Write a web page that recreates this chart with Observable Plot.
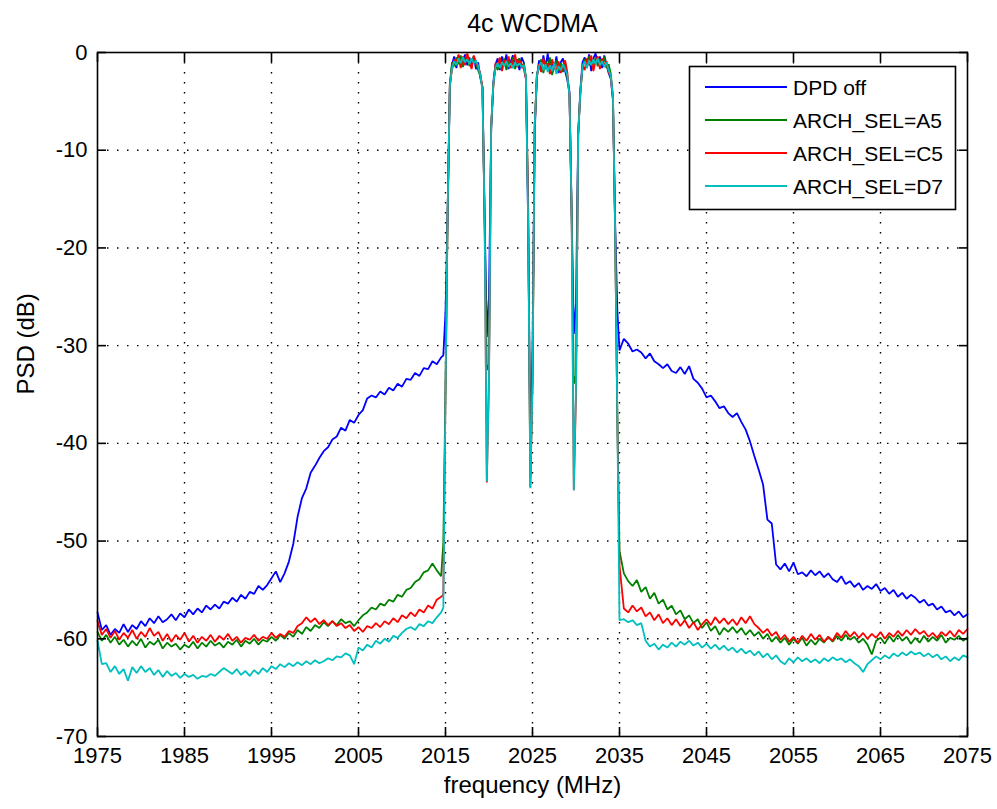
<!DOCTYPE html>
<html>
<head>
<meta charset="utf-8">
<script src="https://cdn.jsdelivr.net/npm/d3@7"></script>
<script src="https://cdn.jsdelivr.net/npm/@observablehq/plot@0.6"></script>
<style>
  html, body { margin: 0; padding: 0; background: #fff; }
  #chart { width: 997px; height: 809px; }
</style>
</head>
<body>
<div id="chart"></div>
<script>
// ---------- categories / ticks ----------
const seriesNames = ["DPD off", "ARCH_SEL=A5", "ARCH_SEL=C5", "ARCH_SEL=D7"];
const seriesColors = ["#0000ff", "#008000", "#ff0000", "#00bfbf"];
const xTicks = [1975, 1985, 1995, 2005, 2015, 2025, 2035, 2045, 2055, 2065, 2075];
const yTicks = [-70, -60, -50, -40, -30, -20, -10, 0];

// ---------- frequency grid (MHz) ----------
const freqLeft = [
  1975,1975.5,1976,1976.5,1977,1977.5,1978,1978.5,1979,1979.5,
  1980,1980.5,1981,1981.5,1982,1982.5,1983,1983.5,1984,1984.5,
  1985,1985.5,1986,1986.5,1987,1987.5,1988,1988.5,1989,1989.5,
  1990,1990.5,1991,1991.5,1992,1992.5,1993,1993.5,1994,1994.5,
  1995,1995.5,1996,1996.5,1997,1997.5,1998,1998.5,1999,1999.5,
  2000,2000.5,2001,2001.5,2002,2002.5,2003,2003.5,2004,2004.5,
  2005,2005.5,2006,2006.5,2007,2007.5,2008,2008.5,2009,2009.5,
  2010,2010.5,2011,2011.5,2012,2012.5,2013,2013.5,2014,2014.5
];
const freqBand = [
  2014.75,2015,2015.25,2015.5,2015.75,2016,2016.25,2016.5,2016.75,2017,
  2017.25,2017.5,2017.75,2018,2018.25,2018.5,2018.75,2019,2019.25,2019.5,
  2019.75,2020,2020.25,2020.5,2020.75,2021,2021.25,2021.5,2021.75,2022,
  2022.25,2022.5,2022.75,2023,2023.25,2023.5,2023.75,2024,2024.25,2024.5,
  2024.75,2025,2025.25,2025.5,2025.75,2026,2026.25,2026.5,2026.75,2027,
  2027.25,2027.5,2027.75,2028,2028.25,2028.5,2028.75,2029,2029.25,2029.5,
  2029.75,2030,2030.25,2030.5,2030.75,2031,2031.25,2031.5,2031.75,2032,
  2032.25,2032.5,2032.75,2033,2033.25,2033.5,2033.75,2034,2034.25,2034.5,
  2034.75,2035
];
const freqRight = [
  2035.5,2036,2036.5,2037,2037.5,2038,2038.5,2039,2039.5,2040,
  2040.5,2041,2041.5,2042,2042.5,2043,2043.5,2044,2044.5,2045,
  2045.5,2046,2046.5,2047,2047.5,2048,2048.5,2049,2049.5,2050,
  2050.5,2051,2051.5,2052,2052.5,2053,2053.5,2054,2054.5,2055,
  2055.5,2056,2056.5,2057,2057.5,2058,2058.5,2059,2059.5,2060,
  2060.5,2061,2061.5,2062,2062.5,2063,2063.5,2064,2064.5,2065,
  2065.5,2066,2066.5,2067,2067.5,2068,2068.5,2069,2069.5,2070,
  2070.5,2071,2071.5,2072,2072.5,2073,2073.5,2074,2074.5,2075
];

// ---------- DPD off (blue) ----------
const dpdOffLeft = [
  -57.3,-59.1,-58.6,-59.6,-59.0,-59.4,-58.5,-59.3,-58.6,-59.0,
  -58.2,-58.7,-57.9,-58.4,-57.7,-58.3,-58.0,-57.5,-58.1,-57.4,
  -57.8,-57.0,-57.5,-56.9,-57.3,-56.6,-57.0,-56.5,-56.9,-56.2,
  -56.4,-55.8,-56.2,-55.5,-55.9,-55.2,-55.4,-54.6,-55.0,-54.5,
  -53.8,-53.1,-54.2,-53.3,-52.1,-50.3,-47.5,-45.6,-44.6,-43.0,
  -42.3,-41.5,-40.8,-40.4,-39.6,-39.3,-38.4,-38.7,-37.6,-37.9,
  -37.1,-36.6,-35.4,-35.1,-35.3,-34.7,-35.0,-34.3,-34.6,-33.9,
  -34.2,-33.4,-33.5,-32.8,-33.1,-32.3,-32.4,-31.6,-31.9,-31.2
];
const dpdOffBand = [
  -31.0,-26.6,-16.2,-3.6,-1.2,-0.4,-1.6,-0.3,-1.4,-0.8,
  -0.2,-1.3,-0.5,-1.5,-0.4,-1.7,-1.0,-2.6,-3.5,-17.0,
  -29.1,-24.9,-7.9,-3.0,-1.2,-0.6,-1.8,-0.4,-1.2,-0.2,
  -1.7,-0.9,-0.3,-1.4,-0.7,-1.8,-0.5,-1.0,-2.8,-17.6,
  -40.0,-30.5,-8.3,-2.6,-0.8,-1.9,-0.3,-1.5,-0.1,-2.0,
  -0.9,-1.7,-0.4,-2.1,-1.0,-0.6,-1.9,-2.8,-4.0,-16.3,
  -28.8,-25.7,-8.5,-3.8,-1.0,-0.5,-1.4,-0.2,-1.9,-0.6,
  -0.1,-1.1,-0.4,-1.6,-0.3,-1.2,-2.1,-2.7,-4.9,-17.5,
  -26.4,-30.5
];
const dpdOffRight = [
  -29.3,-29.8,-30.6,-30.4,-30.7,-31.3,-30.8,-31.6,-31.9,-32.3,
  -31.9,-32.6,-32.8,-32.2,-32.9,-32.1,-33.4,-33.8,-34.4,-35.3,
  -35.1,-35.7,-36.4,-36.2,-36.9,-37.3,-36.9,-37.8,-38.6,-39.8,
  -41.3,-42.7,-44.2,-47.8,-48.2,-52.4,-52.9,-52.3,-53.1,-52.2,
  -53.4,-53.2,-53.6,-53.0,-53.5,-53.1,-53.7,-53.3,-53.9,-54.2,
  -53.6,-54.4,-54.1,-54.7,-54.3,-55.0,-54.6,-54.9,-54.4,-55.1,
  -54.8,-55.4,-55.0,-55.7,-55.3,-55.9,-55.5,-55.8,-56.3,-56.0,
  -56.6,-56.4,-57.0,-56.7,-57.3,-57.1,-57.6,-57.2,-57.8,-57.5
];

// ---------- ARCH_SEL=A5 (green) ----------
const a5Left = [
  -59.3,-60.2,-59.6,-60.4,-59.8,-60.6,-60.1,-60.8,-60.2,-60.7,
  -60.0,-60.9,-60.3,-60.6,-60.1,-61.0,-60.4,-60.8,-60.5,-61.1,
  -60.6,-60.9,-60.3,-61.0,-60.4,-60.8,-60.2,-60.7,-60.4,-60.9,
  -60.3,-60.6,-60.1,-60.8,-60.2,-60.5,-60.0,-60.6,-60.1,-60.3,
  -59.8,-60.2,-59.6,-60.0,-59.4,-59.8,-59.1,-59.5,-58.8,-59.2,
  -58.6,-58.9,-58.3,-58.7,-58.2,-58.6,-58.0,-58.4,-58.2,-58.7,
  -58.1,-57.6,-57.3,-56.8,-57.0,-56.4,-56.6,-56.0,-56.2,-55.5,
  -55.7,-55.0,-54.8,-54.2,-53.9,-53.2,-53.0,-52.3,-53.0,-53.6
];
const a5Band = [
  -50.2,-34.3,-16.0,-3.2,-1.0,-1.4,-0.5,-1.2,-0.3,-1.5,
  -0.6,-0.2,-1.4,-0.9,-0.4,-1.2,-1.8,-2.4,-3.6,-17.2,
  -32.5,-31.9,-7.7,-3.3,-1.3,-1.8,-0.7,-1.5,-0.6,-1.8,
  -0.8,-1.4,-0.5,-1.7,-0.9,-0.6,-1.6,-1.1,-2.5,-16.0,
  -43.5,-33.5,-7.8,-2.2,-1.6,-0.7,-2.1,-0.9,-1.6,-0.5,
  -2.3,-1.4,-0.8,-1.9,-1.1,-2.0,-1.0,-2.5,-4.3,-16.6,
  -33.9,-33.0,-8.3,-4.0,-1.6,-0.7,-1.2,-0.4,-1.0,-1.6,
  -0.5,-1.4,-0.7,-1.1,-0.4,-1.6,-1.2,-2.2,-4.5,-18.1,
  -37.0,-51.0
];
const a5Right = [
  -53.3,-54.1,-54.6,-54.0,-55.2,-54.7,-55.9,-55.3,-56.4,-56.0,
  -57.0,-56.6,-57.5,-57.1,-58.0,-57.6,-58.4,-58.0,-58.9,-58.3,
  -59.2,-58.7,-59.6,-58.9,-59.3,-58.8,-59.4,-58.9,-59.6,-59.1,
  -59.7,-59.3,-60.0,-59.5,-60.3,-59.8,-60.4,-59.9,-60.6,-60.0,
  -60.5,-59.9,-60.7,-60.1,-60.6,-60.0,-60.4,-59.8,-60.3,-59.7,
  -60.2,-59.6,-60.1,-59.8,-60.4,-60.0,-60.6,-61.6,-60.2,-59.9,
  -60.5,-59.7,-60.3,-59.6,-60.2,-59.8,-60.5,-59.9,-60.4,-59.7,
  -60.3,-59.8,-60.2,-59.6,-60.4,-59.9,-60.1,-59.7,-60.2,-59.9
];

// ---------- ARCH_SEL=C5 (red) ----------
const c5Left = [
  -58.2,-59.6,-59.0,-59.9,-59.2,-60.1,-59.4,-59.9,-59.1,-60.0,
  -59.3,-59.8,-58.9,-59.7,-59.3,-60.2,-59.5,-60.3,-59.6,-60.1,
  -59.4,-60.3,-59.7,-60.4,-59.8,-60.2,-59.6,-60.3,-59.7,-60.1,
  -59.5,-60.2,-59.8,-60.4,-59.9,-60.1,-59.6,-60.2,-59.8,-60.0,
  -59.4,-59.9,-59.5,-59.8,-59.2,-59.4,-58.7,-58.4,-57.8,-58.3,
  -57.9,-58.5,-58.1,-58.6,-58.2,-58.7,-58.4,-58.9,-58.6,-59.2,
  -58.8,-59.3,-58.7,-58.9,-58.4,-58.8,-58.2,-58.5,-57.9,-58.3,
  -57.6,-57.9,-57.3,-57.7,-57.0,-57.3,-56.6,-56.9,-56.0,-55.7
];
const c5Band = [
  -55.5,-34.8,-16.3,-3.1,-1.8,-0.7,-1.1,-0.2,-1.6,-0.4,
  -1.3,-0.1,-0.9,-1.7,-0.3,-1.0,-1.5,-2.1,-3.7,-17.6,
  -44.0,-33.2,-7.5,-3.4,-1.1,-1.3,-0.5,-1.9,-0.8,-1.2,
  -0.4,-1.6,-1.0,-0.2,-1.5,-0.8,-1.2,-1.7,-2.7,-15.5,
  -44.5,-33.9,-7.6,-2.5,-1.2,-2.0,-0.6,-1.7,-1.1,-2.2,
  -0.7,-1.5,-1.9,-0.9,-2.1,-1.4,-0.8,-2.0,-4.4,-16.7,
  -44.8,-35.0,-8.4,-4.2,-1.3,-1.8,-0.6,-1.3,-0.3,-1.9,
  -0.9,-0.4,-1.7,-0.6,-1.4,-0.9,-2.0,-2.5,-4.8,-18.4,
  -37.5,-52.5
];
const c5Right = [
  -56.9,-57.3,-56.6,-57.2,-56.8,-57.7,-57.3,-58.1,-57.5,-58.4,
  -57.9,-58.6,-58.0,-58.7,-58.1,-58.9,-58.3,-59.1,-58.5,-58.0,
  -58.6,-57.8,-58.4,-57.9,-58.5,-58.0,-58.6,-57.8,-58.4,-57.7,
  -58.5,-58.9,-59.4,-59.0,-59.7,-59.3,-60.1,-59.6,-60.3,-59.8,
  -60.4,-59.7,-60.2,-59.5,-60.1,-59.6,-60.3,-59.8,-60.2,-59.4,
  -59.9,-59.2,-59.8,-59.3,-59.9,-59.4,-60.0,-59.5,-59.9,-59.3,
  -60.0,-59.4,-59.8,-59.2,-59.7,-59.1,-59.6,-59.0,-59.5,-59.2,
  -59.8,-59.4,-59.9,-59.3,-59.7,-59.2,-59.8,-59.1,-59.5,-59.0
];

// ---------- ARCH_SEL=D7 (cyan) ----------
const d7Left = [
  -60.2,-62.6,-62.5,-63.4,-62.8,-63.6,-63.1,-64.3,-62.9,-63.5,
  -62.8,-63.4,-63.0,-63.7,-63.2,-63.9,-63.3,-63.8,-63.5,-64.0,
  -63.6,-63.9,-63.7,-64.1,-63.8,-63.9,-63.6,-63.8,-63.4,-63.0,
  -63.3,-63.6,-63.1,-63.7,-63.3,-63.8,-63.2,-63.6,-63.0,-63.4,
  -62.8,-63.1,-62.6,-62.9,-62.5,-62.8,-62.4,-62.7,-62.3,-62.6,
  -62.2,-62.5,-62.3,-62.0,-62.2,-61.8,-61.9,-61.5,-61.7,-62.6,
  -60.9,-61.2,-60.6,-60.9,-60.2,-60.5,-60.0,-60.3,-59.7,-59.9,
  -59.4,-59.0,-58.8,-59.1,-58.5,-58.7,-58.2,-58.4,-57.8,-57.3
];
const d7Band = [
  -56.8,-34.6,-16.0,-3.4,-1.6,-0.9,-1.3,-0.6,-1.1,-0.5,
  -1.0,-0.7,-1.2,-0.6,-1.1,-0.8,-1.4,-2.3,-3.9,-17.5,
  -43.9,-33.2,-7.6,-3.2,-1.5,-1.1,-1.6,-1.0,-1.4,-0.9,
  -1.5,-1.1,-1.6,-1.0,-1.4,-1.1,-1.5,-1.3,-2.6,-17.4,
  -44.6,-33.8,-7.5,-2.4,-1.4,-1.0,-1.8,-1.2,-2.0,-1.3,
  -1.9,-1.1,-2.2,-1.4,-1.8,-1.2,-1.7,-2.3,-4.4,-16.5,
  -44.8,-34.0,-8.5,-4.1,-1.4,-0.9,-1.6,-0.8,-1.3,-0.7,
  -1.2,-0.6,-1.3,-0.9,-1.5,-1.0,-1.8,-2.4,-4.6,-18.4,
  -37.5,-58.1
];
const d7Right = [
  -58.0,-58.3,-58.1,-58.6,-58.4,-60.2,-60.8,-60.5,-61.1,-60.6,
  -60.9,-60.4,-60.8,-60.3,-60.6,-60.2,-60.7,-60.4,-60.9,-60.5,
  -61.0,-60.6,-61.1,-60.7,-61.2,-60.9,-61.4,-61.0,-61.5,-61.2,
  -61.7,-61.3,-61.9,-61.5,-62.1,-61.7,-62.3,-62.6,-62.0,-62.4,
  -61.9,-62.3,-62.0,-62.4,-62.1,-62.5,-62.0,-62.3,-61.9,-62.2,
  -62.0,-62.4,-62.1,-62.5,-62.8,-63.4,-62.6,-62.2,-61.8,-62.1,
  -61.7,-62.0,-61.5,-61.8,-61.4,-61.7,-61.3,-61.6,-61.4,-61.8,
  -61.5,-61.9,-61.6,-62.1,-61.8,-62.3,-61.9,-62.2,-61.7,-61.9
];

// ---------- build tidy table ----------
const freq = [...freqLeft, ...freqBand, ...freqRight];
const seriesValues = [
  [...dpdOffLeft, ...dpdOffBand, ...dpdOffRight],
  [...a5Left, ...a5Band, ...a5Right],
  [...c5Left, ...c5Band, ...c5Right],
  [...d7Left, ...d7Band, ...d7Right]
];
const table = seriesNames.flatMap((name, s) =>
  freq.map((f, i) => ({f, psd: seriesValues[s][i], name}))
);

const FONT = "'Liberation Sans', Arial, Helvetica, sans-serif";
const xInner = xTicks.slice(1, -1);
const yInner = yTicks.slice(1, -1);
const dots = "1.5,8.5";

const chart = Plot.plot({
  width: 997,
  height: 809,
  marginLeft: 97,
  marginRight: 30,
  marginTop: 52,
  marginBottom: 73,
  style: {fontFamily: FONT, fontSize: "22px", background: "#fff", color: "#000"},
  x: {domain: [1975, 2075], label: null},
  y: {domain: [-70, 0], label: null},
  color: {domain: seriesNames, range: seriesColors},
  marks: [
    // dotted grid
    Plot.ruleX(xInner, {stroke: "#000", strokeWidth: 1.4, strokeDasharray: dots}),
    Plot.ruleY(yInner, {stroke: "#000", strokeWidth: 1.4, strokeDasharray: dots}),
    // data
    Plot.line(table, {x: "f", y: "psd", z: "name", stroke: "name", strokeWidth: 1.8, strokeLinejoin: "miter"}),
    // box
    Plot.frame({stroke: "#000", strokeWidth: 1.6}),
    // inward ticks on all four sides
    Plot.axisX({ticks: xTicks, anchor: "bottom", tickSize: -9, tickFormat: () => "", label: null, strokeWidth: 1.6}),
    Plot.axisX({ticks: xTicks, anchor: "top", tickSize: -9, tickFormat: () => "", label: null, strokeWidth: 1.6}),
    Plot.axisY({ticks: yTicks, anchor: "left", tickSize: -9, tickFormat: () => "", label: null, strokeWidth: 1.6}),
    Plot.axisY({ticks: yTicks, anchor: "right", tickSize: -9, tickFormat: () => "", label: null, strokeWidth: 1.6}),
    // tick labels
    Plot.axisX({ticks: xTicks, anchor: "bottom", tickSize: 0, tickPadding: 11, tickFormat: d => String(d), label: null, fontSize: 22}),
    Plot.axisY({ticks: yTicks, anchor: "left", tickSize: 0, tickPadding: 10, tickFormat: d => String(d), label: null, fontSize: 22}),
    // title and axis labels
    Plot.text(["4c WCDMA"], {frameAnchor: "top", dy: -21, lineAnchor: "bottom", fontSize: 25, fill: "#000"}),
    Plot.text(["frequency (MHz)"], {frameAnchor: "bottom", dy: 56, lineAnchor: "bottom", fontSize: 24, fill: "#000"}),
    Plot.text(["PSD (dB)"], {frameAnchor: "left", dx: -64, rotate: -90, lineAnchor: "bottom", fontSize: 24, fill: "#000"})
  ]
});

document.getElementById("chart").appendChild(chart);

// ---------- legend (inside the axes, top right) ----------
const colorScale = chart.scale("color");
const svg = d3.select(chart);
const lg = svg.append("g")
  .attr("font-family", FONT)
  .attr("font-size", 21)
  .attr("text-anchor", "start");
lg.append("rect")
  .attr("x", 689.5).attr("y", 66.5).attr("width", 266).attr("height", 143)
  .attr("fill", "#fff").attr("stroke", "#000").attr("stroke-width", 1.6);
seriesNames.forEach((name, i) => {
  const cy = 87 + i * 33;
  lg.append("line")
    .attr("x1", 705).attr("x2", 787).attr("y1", cy).attr("y2", cy)
    .attr("stroke", colorScale.apply(name)).attr("stroke-width", 1.8);
  lg.append("text")
    .attr("x", 793).attr("y", cy).attr("dy", "0.36em")
    .attr("text-anchor", "start")
    .attr("fill", "#000").text(name);
});
</script>
</body>
</html>
